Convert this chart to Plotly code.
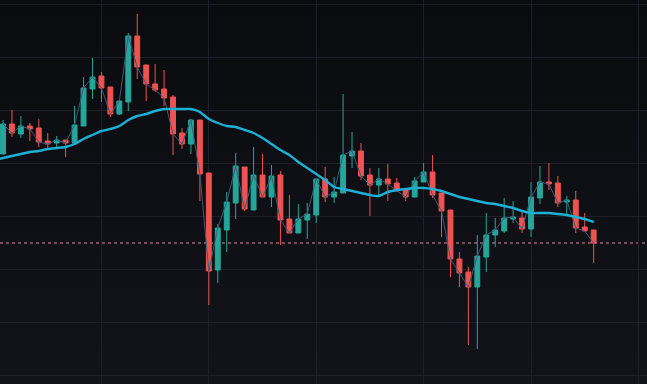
import base64
import plotly.graph_objects as go

# ---- data (arbitrary price units) ----
opens = [246, 276, 266, 274, 272, 259, 257, 260, 257, 274, 311, 324, 313, 286, 298, 364, 335, 316, 311, 303,
         267, 256, 280, 227, 130, 170, 197, 233, 190, 225, 203, 225, 181, 167, 180, 185, 221, 203, 207, 244,
         249, 225, 215, 221, 217, 211, 203, 218, 228, 207, 190, 141, 128, 113, 143, 165, 169, 181, 182, 171,
         202, 218, 217, 198, 200, 173, 170]
highs = [280, 290, 284, 277, 281, 267, 264, 260, 294, 323, 342, 328, 313, 300, 367, 386, 335, 336, 330, 305,
         272, 281, 280, 227, 176, 208, 247, 233, 253, 246, 235, 229, 205, 196, 197, 221, 233, 223, 306, 268,
         257, 232, 232, 236, 222, 211, 223, 237, 245, 207, 190, 148, 133, 165, 187, 182, 202, 199, 188, 218,
         234, 237, 224, 204, 209, 187, 170]
lows = [246, 263, 262, 259, 253, 252, 253, 243, 257, 274, 301, 298, 283, 285, 289, 321, 299, 308, 294, 245,
        251, 246, 199, 95, 117, 148, 181, 189, 190, 203, 193, 155, 167, 167, 161, 177, 198, 197, 207, 232,
        220, 184, 205, 199, 209, 199, 203, 218, 202, 163, 123, 113, 55, 51, 128, 153, 167, 177, 167, 163,
        196, 210, 193, 185, 167, 169, 137]
closes = [276, 267, 274, 271, 258, 256, 260, 257, 275, 312, 323, 312, 286, 299, 364, 333, 316, 310, 302, 266,
          256, 280, 226, 129, 172, 198, 234, 191, 225, 203, 224, 180, 167, 181, 186, 221, 203, 208, 245, 249,
          224, 215, 221, 216, 209, 203, 219, 228, 205, 189, 141, 127, 113, 144, 165, 170, 182, 183, 171, 203,
          218, 216, 197, 200, 172, 169, 157]
# moving average, starting one period before the first visible candle
ma = [240, 242, 244, 246, 248, 249, 251, 252, 253, 256, 261, 265, 269, 271, 274, 280, 284, 286, 289, 291, 291,
      291, 291, 288, 281, 277, 274, 273, 270, 267, 262, 256, 250, 245, 238, 232, 226, 220, 213, 211, 209,
      207, 205, 204, 208, 210, 211, 212, 212, 211, 209, 206, 203, 201, 199, 197, 196, 194, 192, 189, 187,
      187, 187, 186, 185, 183, 181, 178]
idx = list(range(len(opens)))
ma_idx = list(range(-1, len(opens)))

UP = "#26a69a"
DOWN = "#ef5350"

fig = go.Figure()

fig.add_trace(go.Scatter(x=idx, y=closes, mode="lines",
                         line=dict(color="#3d5a78", width=1), hoverinfo="skip", showlegend=False))
fig.add_trace(go.Candlestick(
    x=idx, open=opens, high=highs, low=lows, close=closes,
    increasing=dict(line=dict(color=UP, width=1), fillcolor=UP),
    decreasing=dict(line=dict(color=DOWN, width=1), fillcolor=DOWN),
    whiskerwidth=0, showlegend=False))
fig.add_trace(go.Scatter(x=ma_idx, y=ma, mode="lines",
                         line=dict(color="#1cb0d4", width=2.4, shape="spline", smoothing=0.6),
                         hoverinfo="skip", showlegend=False))

fig.add_shape(type="line", xref="paper", x0=0, x1=1, yref="y", y0=closes[-1], y1=closes[-1],
              line=dict(color="#e8839b", width=1, dash="dot"), layer="below")

svg = ('<svg xmlns="http://www.w3.org/2000/svg" width="10" height="100" preserveAspectRatio="none">'
       '<defs><linearGradient id="g" x1="0" y1="0" x2="0" y2="1">'
       '<stop offset="0" stop-color="#0a0b0e"/><stop offset="1" stop-color="#12141b"/>'
       '</linearGradient></defs><rect width="10" height="100" fill="url(#g)"/></svg>')
src = "data:image/svg+xml;base64," + base64.b64encode(svg.encode()).decode()

fig.update_layout(
    width=647, height=384,
    margin=dict(l=0, r=0, t=0, b=0),
    paper_bgcolor="#0e1015",
    plot_bgcolor="rgba(0,0,0,0)",
    boxgap=0.22,
    images=[dict(source=src, xref="paper", yref="paper", x=0, y=1, sizex=1, sizey=1,
                 sizing="stretch", layer="below", xanchor="left", yanchor="top")],
    xaxis=dict(range=[-0.335, 71.96], showticklabels=False, zeroline=False, showline=False,
               rangeslider=dict(visible=False), showgrid=True, gridcolor="#1d2028", gridwidth=1,
               tick0=11, dtick=12, fixedrange=True),
    yaxis=dict(range=[16, 400], showticklabels=False, zeroline=False, showline=False,
               showgrid=True, gridcolor="#1d2028", gridwidth=1, tick0=25, dtick=53, fixedrange=True),
    hovermode=False,
)

fig.write_html("out.html", config={"displayModeBar": False},
               post_script="document.body.style.margin='0';document.body.style.overflow='hidden';"
                           "document.body.style.background='#0e1015';")
